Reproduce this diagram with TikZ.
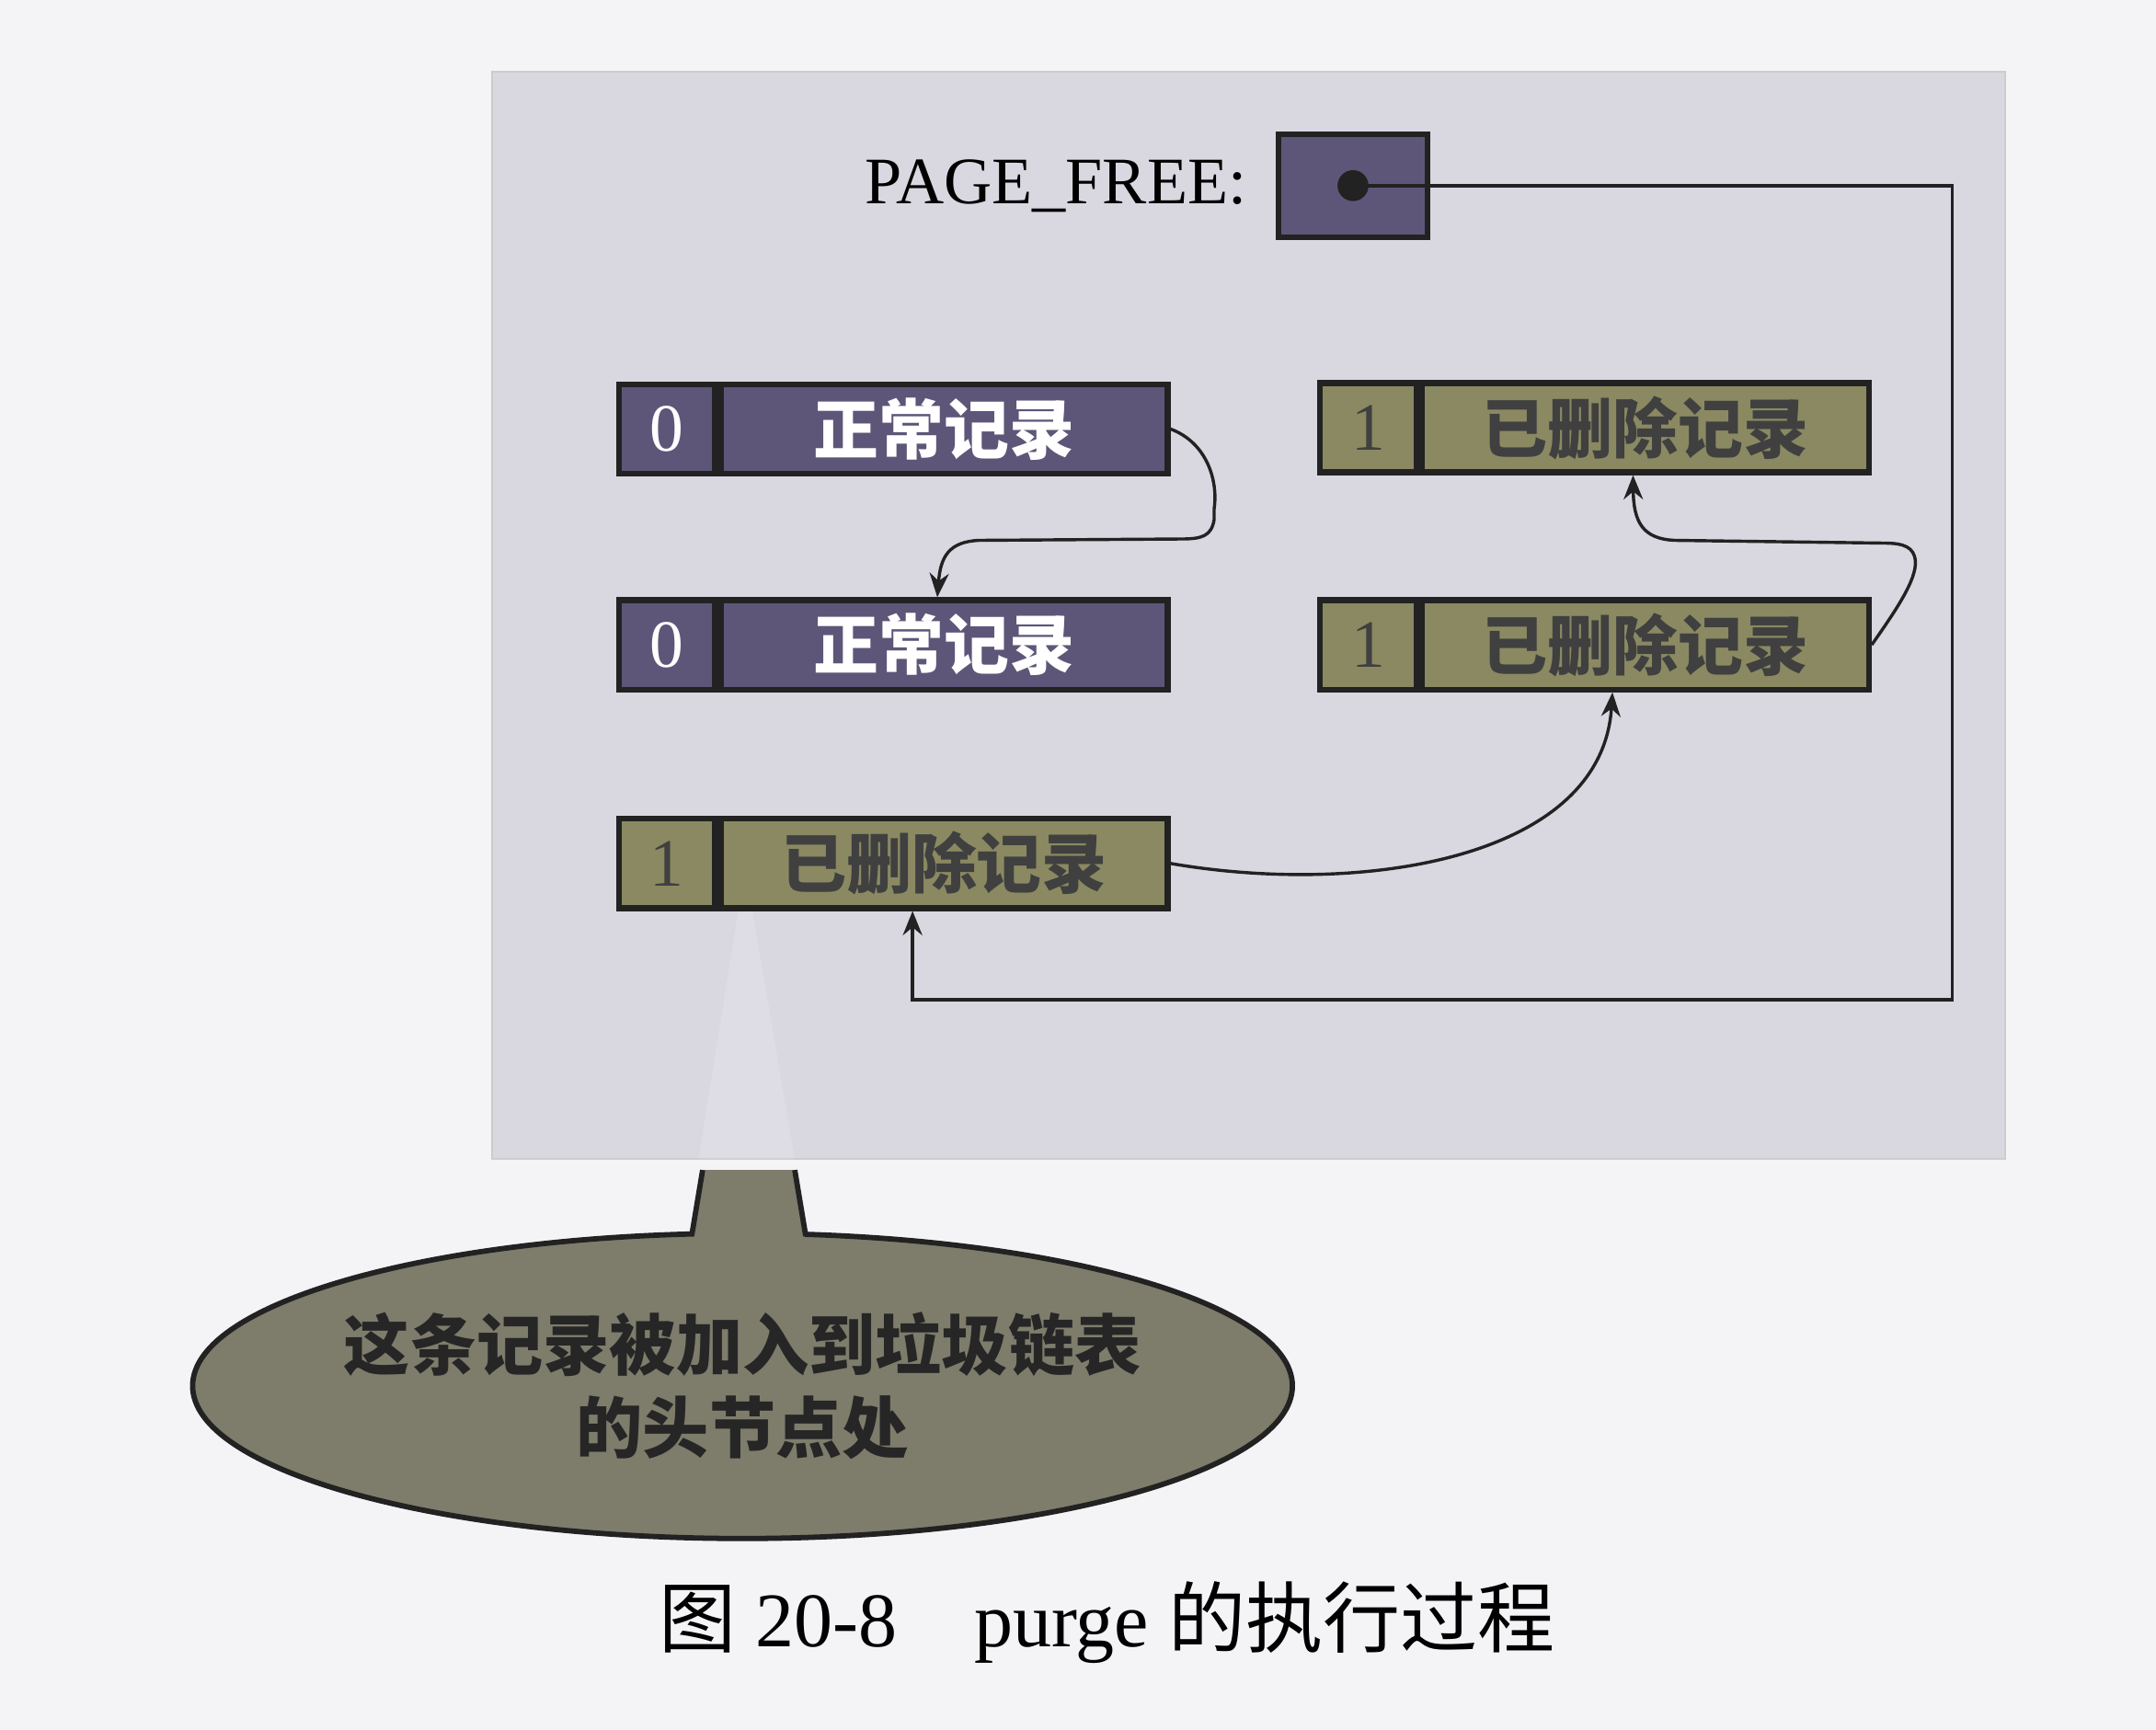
\documentclass[tikz,border=0pt]{standalone}
\usepackage{fontspec}
\setmainfont{Liberation Serif}
\newfontfamily\cjk{Noto Sans CJK SC}
\usetikzlibrary{arrows.meta, positioning, shapes.geometric}
\definecolor{pagebg}{HTML}{F4F3F5}
\definecolor{panelgray}{HTML}{D9D7E0}
\definecolor{recpurple}{HTML}{5E5679}
\definecolor{recolive}{HTML}{8A8962}
\definecolor{calloutgray}{HTML}{7E7C6B}
\definecolor{darkline}{HTML}{222222}

\begin{document}
\begin{tikzpicture}[x=0.02cm, y=-0.02cm,
    flagcell/.style={draw=darkline, line width=2.4pt, minimum width=1.4cm, minimum height=1.3cm,
      inner sep=0pt, font=\fontsize{28}{30}\selectfont},
    textcell/.style={draw=darkline, line width=2.4pt, minimum width=6.5cm, minimum height=1.3cm,
      inner sep=0pt, font=\cjk\bfseries\fontsize{27}{30}\selectfont},
    normrec/.style={fill=recpurple, text=white},
    delrec/.style={fill=recolive, text=black!75},
    link/.style={draw=darkline, line width=1.3pt, -{Stealth[length=10pt, width=8pt]}}]
  \fill[pagebg] (0,0) rectangle (1568,1258);
  \fill[panelgray, draw=black!20, line width=0.8pt] (358,52) rectangle (1458,843);
  \fill[white, opacity=0.15] (508,843) -- (537,662) -- (547,662) -- (578,843) -- cycle;

  % free list head
  \node[draw=darkline, line width=2.4pt, fill=recpurple, minimum width=2.16cm, minimum height=1.5cm] (pfree) at (984,135) {};
  \node[circle, fill=darkline, inner sep=0pt, minimum size=0.45cm] (pdot) at (pfree.center) {};
  \node[left=0.3cm of pfree, font=\fontsize{27.5}{30}\selectfont] (pfreelabel) {PAGE\_FREE:};

  % records
  \node[flagcell, normrec] (f1) at (485,312) {0};
  \node[textcell, normrec, right=0pt of f1] (r1) {正常记录};
  \node[flagcell, normrec] (f2) at (485,469) {0};
  \node[textcell, normrec, right=0pt of f2] (r2) {正常记录};
  \node[flagcell, delrec] (f3) at (485,628) {1};
  \node[textcell, delrec, right=0pt of f3] (r3) {已删除记录};
  \node[flagcell, delrec] (f4) at (995,311) {1};
  \node[textcell, delrec, right=0pt of f4] (r4) {已删除记录};
  \node[flagcell, delrec] (f5) at (995,469) {1};
  \node[textcell, delrec, right=0pt of f5] (r5) {已删除记录};

  % next pointers
  \coordinate (c1) at (1420,727);
  \draw[link] (pdot.center) -| (c1) -| ([xshift=-0.46cm]r3.south);
  \draw[link] (r1.east) .. controls (878,322) and (886,350) .. (883,370) -- (883,378)
    .. controls (881,390) and (874,392) .. (859,392) -- (712,393)
    .. controls (690,394) and (684,405) .. ([xshift=-0.1cm]r2.north);
  \draw[link] (r5.east) .. controls (1378,445) and (1394,422) .. (1393,408)
    .. controls (1392,398) and (1385,395) .. (1370,395) -- (1218,393)
    .. controls (1195,392) and (1188,380) .. ([xshift=-0.18cm]r4.south);
  \draw[link] (r3.east) .. controls (990,652) and (1165,625) .. ([xshift=-0.48cm]r5.south);

  % callout
  \node[ellipse, draw=darkline, line width=2.2pt, fill=calloutgray, minimum width=16cm,
    minimum height=4.44cm] (note) at (540,1008) {};
  \fill[calloutgray] (503,906) -- (511,851) -- (578,851) -- (586,906) -- cycle;
  \draw[darkline, line width=2.2pt] (503,899) -- (511,851);
  \draw[darkline, line width=2.2pt] (586,899) -- (578,851);
  \node[align=center, text=black!85, font=\cjk\bfseries\fontsize{27.5}{34}\selectfont] (notetext)
    at (note.center) {这条记录被加入到垃圾链表\\的头节点处};

  \node[font=\fontsize{32}{36}\selectfont] (caption) at (805,1180)
    {{\cjk 图} 20-8\quad purge {\cjk 的执行过程}};
\end{tikzpicture}
\end{document}
